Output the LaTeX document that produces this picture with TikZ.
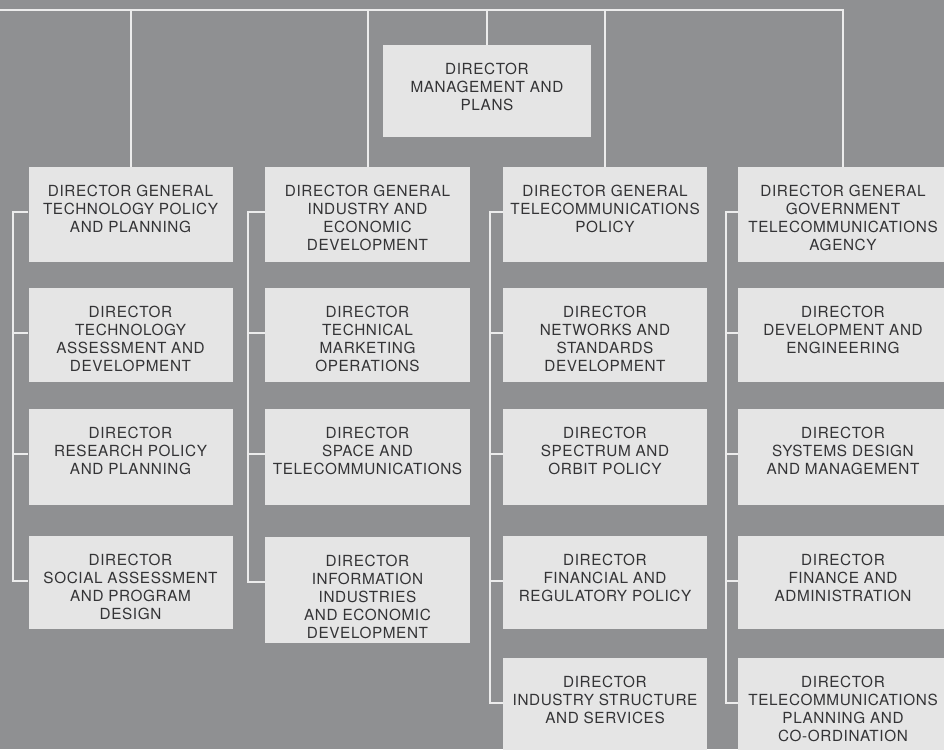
\documentclass[tikz,border=0pt]{standalone}
\usepackage{fontspec}
\setmainfont{TeX Gyre Heros}[LetterSpace=4]

\definecolor{pagegray}{RGB}{143,144,146}
\definecolor{boxfill}{RGB}{229,229,229}
\definecolor{inkgray}{RGB}{52,52,54}
\definecolor{linkwhite}{RGB}{236,236,236}

\tikzset{
  unit/.style={fill=boxfill, draw=none, inner sep=0pt, minimum width=204pt, anchor=north},
  unitlabel/.style={inner sep=0pt, align=center, text=inkgray, anchor=north,
                    font=\fontsize{15.3}{18}\selectfont},
  link/.style={draw=linkwhite, line width=2pt}
}

% box: name, centre x, top y, width, height, text
\newcommand{\orgunit}[6]{%
  \node[unit, minimum width=#4pt, minimum height=#5pt] (#1) at (#2,#3) {};
  \node[unitlabel] (#1-t) at ([yshift=-18pt]#1.north) {#6};
}

\begin{document}
\begin{tikzpicture}[x=1pt,y=-1pt]
  \fill[pagegray] (0,0) rectangle (944,749);
  \useasboundingbox (0,0) rectangle (944,749);
  \clip (0,0) rectangle (944,749);

  % top row
  \orgunit{mgmt}{487}{45}{208}{92}{DIRECTOR\\MANAGEMENT AND\\PLANS}

  % column 1
  \orgunit{d11}{130.5}{167}{204}{95}{DIRECTOR GENERAL\\TECHNOLOGY POLICY\\AND PLANNING}
  \orgunit{d12}{130.5}{288}{204}{94}{DIRECTOR\\TECHNOLOGY\\ASSESSMENT AND\\DEVELOPMENT}
  \orgunit{d13}{130.5}{409}{204}{96}{DIRECTOR\\RESEARCH POLICY\\AND PLANNING}
  \orgunit{d14}{130.5}{536}{204}{93}{DIRECTOR\\SOCIAL ASSESSMENT\\AND PROGRAM\\DESIGN}

  % column 2
  \orgunit{d21}{367.5}{167}{205}{95}{DIRECTOR GENERAL\\INDUSTRY AND\\ECONOMIC\\DEVELOPMENT}
  \orgunit{d22}{367.5}{288}{205}{94}{DIRECTOR\\TECHNICAL\\MARKETING\\OPERATIONS}
  \orgunit{d23}{367.5}{409}{205}{96}{DIRECTOR\\SPACE AND\\TELECOMMUNICATIONS}
  \orgunit{d24}{367.5}{537}{205}{106}{DIRECTOR\\INFORMATION\\INDUSTRIES\\AND ECONOMIC\\DEVELOPMENT}

  % column 3
  \orgunit{d31}{605}{167}{204}{95}{DIRECTOR GENERAL\\TELECOMMUNICATIONS\\POLICY}
  \orgunit{d32}{605}{288}{204}{94}{DIRECTOR\\NETWORKS AND\\STANDARDS\\DEVELOPMENT}
  \orgunit{d33}{605}{409}{204}{96}{DIRECTOR\\SPECTRUM AND\\ORBIT POLICY}
  \orgunit{d34}{605}{536}{204}{93}{DIRECTOR\\FINANCIAL AND\\REGULATORY POLICY}
  \orgunit{d35}{605}{658}{204}{110}{DIRECTOR\\INDUSTRY STRUCTURE\\AND SERVICES}

  % column 4
  \orgunit{d41}{843}{167}{210}{95}{DIRECTOR GENERAL\\GOVERNMENT\\TELECOMMUNICATIONS\\AGENCY}
  \orgunit{d42}{843}{288}{210}{94}{DIRECTOR\\DEVELOPMENT AND\\ENGINEERING}
  \orgunit{d43}{843}{409}{210}{96}{DIRECTOR\\SYSTEMS DESIGN\\AND MANAGEMENT}
  \orgunit{d44}{843}{536}{210}{93}{DIRECTOR\\FINANCE AND\\ADMINISTRATION}
  \orgunit{d45}{843}{658}{210}{110}{DIRECTOR\\TELECOMMUNICATIONS\\PLANNING AND\\CO-ORDINATION}

  % top bus and drops
  \coordinate (bus) at (0,10);
  \draw[link] (bus) -| (d41.north);
  \draw[link] (d11.north) -- (d11.north |- bus);
  \draw[link] (d21.north) -- (d21.north |- bus);
  \draw[link] (mgmt.north) -- (mgmt.north |- bus);
  \draw[link] (d31.north) -- (d31.north |- bus);

  % side spines
  \coordinate (sp1) at (13,0);
  \coordinate (sp2) at (248,0);
  \coordinate (sp3) at (490,0);
  \coordinate (sp4) at (726,0);
  \foreach \c/\n in {1/4,2/4,3/5,4/5}{
    \draw[link] ([yshift=-45pt]d\c1.north west) -- ([yshift=-45pt]d\c1.north west -| sp\c)
                -- ([yshift=-45pt]d\c\n.north west -| sp\c) -- ([yshift=-45pt]d\c\n.north west);
    \foreach \r in {2,...,\n}{
      \draw[link] ([yshift=-45pt]d\c\r.north west -| sp\c) -- ([yshift=-45pt]d\c\r.north west);
    }
  }
\end{tikzpicture}
\end{document}
